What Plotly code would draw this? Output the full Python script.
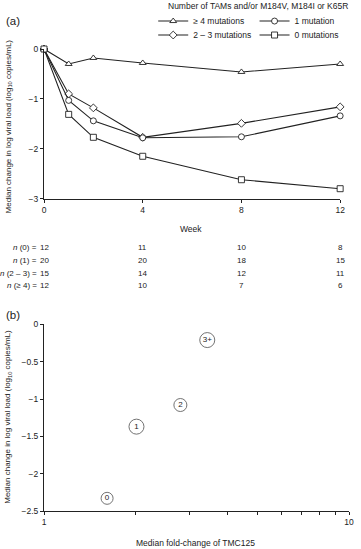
import plotly.graph_objects as go

# ---------------- data ----------------
weeks = [0, 1, 2, 4, 8, 12]
ge4_vals = [0, -0.30, -0.18, -0.28, -0.46, -0.30]
m23_vals = [0, -0.90, -1.18, -1.77, -1.49, -1.16]
m1_vals = [0, -1.03, -1.44, -1.78, -1.76, -1.34]
m0_vals = [0, -1.31, -1.77, -2.15, -2.62, -2.80]

n_weeks = [0, 4, 8, 12]
n_labels = ["<i>n</i> (0) =", "<i>n</i> (1) =", "<i>n</i> (2 – 3) =", "<i>n</i> (≥ 4) ="]
n_counts = [
    [12, 11, 10, 8],
    [20, 20, 18, 15],
    [15, 14, 12, 11],
    [12, 10, 7, 6],
]

b_groups = ["0", "1", "2", "3+"]
b_fold = [1.61, 2.01, 2.80, 3.43]
b_change = [-2.33, -1.37, -1.08, -0.21]
b_sizes = [12, 15, 13, 15]

# ---------------- layout helpers ----------------
W, H = 361, 549
ML, MR, MT, MB = 44, 7, 48, 38
PW, PH = W - ML - MR, H - MT - MB


def xp(px):
    return (px - ML) / PW


def yp(py):
    return 1 - (py - MT) / PH


FONT = "Liberation Sans, Arial, sans-serif"
INK = "#222222"

fig = go.Figure()

series = [
    ("≥ 4 mutations", ge4_vals, "triangle-up", "legend"),
    ("2 – 3 mutations", m23_vals, "diamond", "legend2"),
    ("1 mutation", m1_vals, "circle", "legend3"),
    ("0 mutations", m0_vals, "square", "legend4"),
]
for name, vals, sym, lg in series:
    fig.add_trace(go.Scatter(
        x=weeks, y=vals, name=name, mode="lines+markers",
        line=dict(color=INK, width=1.1),
        marker=dict(symbol=sym, size=6,
                    color="white", line=dict(color=INK, width=0.9)),
        cliponaxis=False, xaxis="x", yaxis="y", legend=lg,
    ))

fig.add_trace(go.Scatter(
    x=b_fold, y=b_change, mode="markers+text", text=b_groups,
    textposition="middle center",
    textfont=dict(family=FONT, size=8, color=INK),
    marker=dict(symbol="circle", size=b_sizes, color="white",
                line=dict(color=INK, width=0.9)),
    showlegend=False, cliponaxis=False, xaxis="x2", yaxis="y2",
))

axis_common = dict(
    showline=True, linecolor=INK, linewidth=1, ticks="outside", ticklen=3,
    tickcolor=INK, tickwidth=1, showgrid=False, zeroline=False,
    tickfont=dict(family=FONT, size=8.5, color=INK),
)


def leg(px, py):
    return dict(x=xp(px), y=yp(py), xanchor="left", yanchor="middle",
                bgcolor="rgba(0,0,0,0)", font=dict(family=FONT, size=8.5),
                itemwidth=30, borderwidth=0)


fig.update_layout(
    width=W, height=H, autosize=False,
    margin=dict(l=ML, r=MR, t=MT, b=MB),
    paper_bgcolor="white", plot_bgcolor="white",
    font=dict(family=FONT, size=8.5, color=INK),
    xaxis=dict(domain=[0, xp(345)], anchor="y", range=[0, 12],
               tickvals=[0, 4, 8, 12], **axis_common),
    yaxis=dict(domain=[yp(198), 1], anchor="x", range=[-3, 0],
               tickvals=[0, -1, -2, -3], **axis_common),
    xaxis2=dict(domain=[0, 1], anchor="y2", type="log", range=[0, 1],
                tickvals=[1, 10], ticktext=["1", "10"],
                minor=dict(tickvals=list(range(2, 10)), ticks="outside",
                           ticklen=3, tickcolor=INK, tickwidth=1, showgrid=False),
                **axis_common),
    yaxis2=dict(domain=[0, yp(324)], anchor="x2", range=[-2.5, 0],
                tickvals=[0, -0.5, -1, -1.5, -2, -2.5], **axis_common),
    legend=leg(155, 20),
    legend2=leg(155, 34),
    legend3=leg(258, 20),
    legend4=leg(258, 34),
)

ann = []
ann.append(dict(text="Number of TAMs and/or M184V, M184I or K65R",
                x=xp(168), y=yp(5), xanchor="left", yanchor="middle",
                font=dict(size=8.5)))
ann.append(dict(text="(a)", x=xp(3), y=yp(20), xanchor="left", yanchor="middle",
                font=dict(size=11.5)))
ann.append(dict(text="(b)", x=xp(3), y=yp(315), xanchor="left", yanchor="middle",
                font=dict(size=11.5)))
ytitle = "Median change in log viral load (log<sub>10</sub> copies/mL)"
ann.append(dict(text=ytitle, textangle=-90, x=xp(8), y=yp(126),
                xanchor="center", yanchor="middle", font=dict(size=8)))
ann.append(dict(text=ytitle, textangle=-90, x=xp(8), y=yp(417),
                xanchor="center", yanchor="middle", font=dict(size=8)))
ann.append(dict(text="Week", x=xp(193), y=yp(228), xanchor="center",
                yanchor="middle", font=dict(size=8.5)))
ann.append(dict(text="Median fold-change of TMC125", x=xp(198), y=yp(543),
                xanchor="center", yanchor="middle", font=dict(size=8.5)))

row_y = [247, 260, 272.5, 285]
for lab, counts, ry in zip(n_labels, n_counts, row_y):
    ann.append(dict(text=lab, x=xp(39), y=yp(ry), xanchor="right",
                    yanchor="middle", font=dict(size=8)))
    for wk, c in zip(n_weeks, counts):
        ann.append(dict(text=str(c), x=wk, xref="x", y=yp(ry), yref="paper",
                        xanchor="center", yanchor="middle", font=dict(size=8)))

for a in ann:
    a.setdefault("xref", "paper")
    a.setdefault("yref", "paper")
    a["showarrow"] = False
fig.update_layout(annotations=ann)

fig.write_html("out.html",
               config={"displayModeBar": False},
               post_script="document.body.style.margin='0';"
                           "document.body.style.overflow='hidden';")
